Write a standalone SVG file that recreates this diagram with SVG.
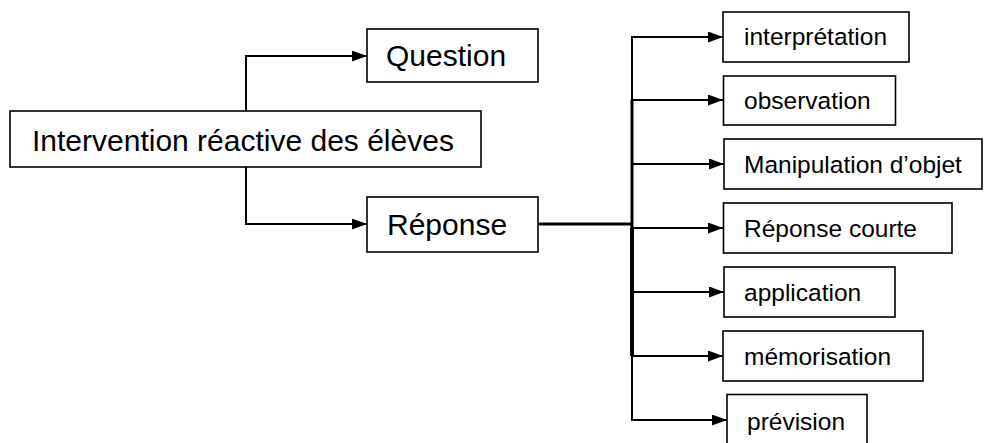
<svg xmlns="http://www.w3.org/2000/svg" width="984" height="443" viewBox="0 0 984 443">
<style>
.box{fill:#fff;stroke:#000;stroke-width:1.6}
.big{font-family:"Liberation Sans",Arial,sans-serif;font-size:30px;fill:#000}
.small{font-family:"Liberation Sans",Arial,sans-serif;font-size:24.5px;fill:#000}
.ln{fill:none;stroke:#000;stroke-width:2}
.arr{fill:none;stroke:#000;stroke-width:2;marker-end:url(#ah)}
</style>
<defs>
<marker id="ah" markerUnits="userSpaceOnUse" markerWidth="15" markerHeight="11" refX="15" refY="5.5" orient="auto">
<path d="M0,0 L15,5.5 L0,11 z" fill="#000"/>
</marker>
</defs>
<rect width="984" height="443" fill="#fff"/>
<g id="connectors">
<path class="arr" d="M246,111 V56 H367"/>
<path class="arr" d="M246,167 V224 H367"/>
<path class="ln" style="stroke-width:2.8" d="M538,224 H632"/>
<path class="ln" d="M632,36 V420"/>
<path class="ln" style="stroke-width:3" d="M632,100 V228"/>
<path class="ln" style="stroke-width:4" d="M632,228 V356"/>
<path class="arr" d="M631,37 H723"/>
<path class="arr" d="M631,100 H723"/>
<path class="arr" d="M631,164 H724"/>
<path class="arr" d="M631,228 H723"/>
<path class="arr" d="M631,292 H724"/>
<path class="arr" d="M631,356 H723"/>
<path class="arr" d="M631,420 H727"/>
</g>
<g id="main">
<rect class="box" x="10" y="111" width="471" height="56"/>
<text class="big" x="32" y="151">Intervention réactive des élèves</text>
</g>
<g id="question">
<rect class="box" x="367" y="29" width="171" height="53"/>
<text class="big" x="386" y="66">Question</text>
</g>
<g id="reponse">
<rect class="box" x="367" y="197" width="171" height="55"/>
<text class="big" x="387" y="235">Réponse</text>
</g>
<g id="interpretation">
<rect class="box" x="723" y="12" width="186" height="50"/>
<text class="small" x="744" y="45">interprétation</text>
</g>
<g id="observation">
<rect class="box" x="723.5" y="76" width="172" height="49"/>
<text class="small" x="744" y="109">observation</text>
</g>
<g id="manipulation">
<rect class="box" x="724" y="139" width="258" height="50"/>
<text class="small" x="744" y="173">Manipulation d’objet</text>
</g>
<g id="reponse-courte">
<rect class="box" x="723.5" y="203" width="228.5" height="50"/>
<text class="small" x="744" y="237">Réponse courte</text>
</g>
<g id="application">
<rect class="box" x="724" y="267" width="171" height="50"/>
<text class="small" x="744" y="301">application</text>
</g>
<g id="memorisation">
<rect class="box" x="723" y="331" width="200" height="50"/>
<text class="small" x="744" y="365">mémorisation</text>
</g>
<g id="prevision">
<rect class="box" x="727" y="394.5" width="140" height="52"/>
<text class="small" x="747" y="430">prévision</text>
</g>
</svg>
